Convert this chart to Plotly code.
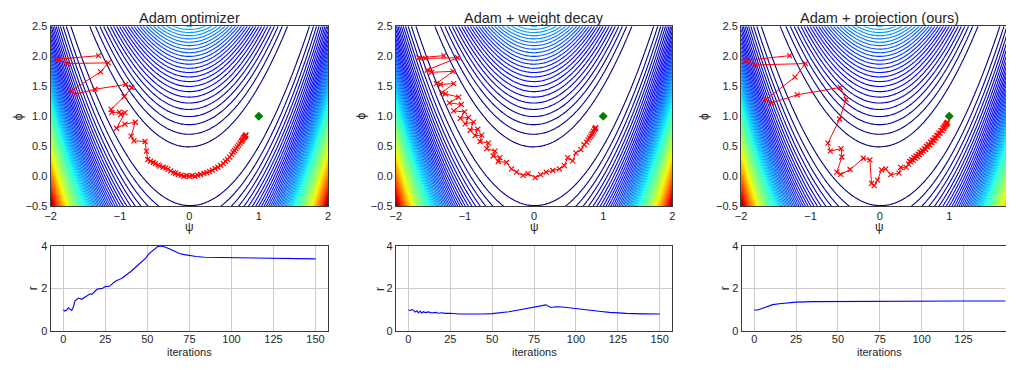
import numpy as np
import plotly.graph_objects as go

# ---------------- data ----------------
titles = ["Adam optimizer", "Adam + weight decay", "Adam + projection (ours)"]
optimum_psi = [1.0]
optimum_phi = [1.0]

# Rosenbrock loss surface (the contour background)
psi_grid = np.linspace(-2, 2, 201)
phi_grid = np.linspace(-0.5, 2.5, 151)
level_start, level_end, level_step = 25, 2025, 25

# trajectories
psi_adam = [-1.31, -1.905, -1.76, -1.17, -1.28, -1.71, -1.64, -1.36, -0.92, -0.83, -0.94, -1.13, -1.12, -1.01,
            -0.99, -0.93, -1.05, -0.93, -0.78, -0.84, -0.80, -0.64, -0.62, -0.60, -0.56, -0.52, -0.49, -0.45,
            -0.43, -0.38, -0.34, -0.31, -0.27, -0.23, -0.20, -0.16, -0.12, -0.08, -0.04, 0.0, 0.04, 0.08, 0.12,
            0.16, 0.21, 0.25, 0.29, 0.33, 0.37, 0.41, 0.45, 0.49, 0.52, 0.55, 0.58, 0.61, 0.63, 0.65, 0.67, 0.69,
            0.71, 0.73, 0.75, 0.76, 0.77, 0.78, 0.79, 0.80, 0.805, 0.81, 0.815]
phi_adam = [2.01, 1.95, 1.88, 1.89, 1.74, 1.42, 1.37, 1.45, 1.53, 1.48, 1.33, 1.115, 1.06, 1.07,
            1.03, 1.06, 0.80, 0.87, 0.90, 0.67, 0.59, 0.58, 0.42, 0.28, 0.25, 0.23, 0.21, 0.19,
            0.17, 0.15, 0.14, 0.12, 0.09, 0.06, 0.05, 0.03, 0.02, 0.00, 0.01, 0.00, 0.01, 0.00, 0.02,
            0.03, 0.05, 0.06, 0.08, 0.10, 0.13, 0.15, 0.18, 0.21, 0.25, 0.28, 0.32, 0.36, 0.40, 0.43, 0.46, 0.49,
            0.52, 0.55, 0.58, 0.60, 0.62, 0.64, 0.65, 0.66, 0.67, 0.68, 0.69]

psi_wd = [-1.306, -1.665, -1.57, -1.106, -1.546, -1.483, -1.173, -1.412, -1.354, -1.163, -1.33, -1.283, -1.091,
          -1.225, -1.053, -1.163, -1.005, -1.068, -0.948, -0.996, -0.876, -0.924, -0.814, -0.853, -0.757, -0.781,
          -0.661, -0.685, -0.566, -0.59, -0.494, -0.518, -0.399, -0.327, -0.255, -0.16, -0.088, 0.017, 0.094,
          0.175, 0.271, 0.366, 0.438, 0.486, 0.557, 0.605, 0.677, 0.724, 0.76, 0.782, 0.80, 0.82, 0.834, 0.85,
          0.86, 0.877, 0.885, 0.892]
phi_wd = [2.01, 1.975, 1.964, 1.975, 1.77, 1.733, 1.749, 1.545, 1.529, 1.545, 1.395, 1.373, 1.32,
          1.223, 1.196, 1.089, 1.073, 0.965, 0.981, 0.874, 0.901, 0.767, 0.783, 0.676, 0.686, 0.579,
          0.552, 0.461, 0.418, 0.337, 0.31, 0.246, 0.23, 0.123, 0.069, 0.015, 0.042, -0.022, 0.026,
          0.069, 0.096, 0.123, 0.176, 0.31, 0.257, 0.391, 0.445, 0.525, 0.57, 0.606, 0.64, 0.67, 0.697, 0.72,
          0.75, 0.783, 0.80, 0.81]

psi_proj = [-1.30, -1.939, -1.796, -1.072, -1.224, -1.643, -1.558, -1.191, -0.572, -0.486, -0.581, -0.748,
            -0.715, -0.558, -0.548, -0.62, -0.562, -0.429, -0.239, -0.143, -0.12, -0.081, -0.034, 0.023, 0.085,
            0.157, 0.276, 0.30, 0.38, 0.414,
            0.43, 0.45, 0.46, 0.48, 0.49, 0.51, 0.52, 0.54, 0.55, 0.57, 0.58, 0.60, 0.61, 0.63, 0.64, 0.66,
            0.67, 0.69, 0.70, 0.72, 0.73, 0.75, 0.76, 0.78, 0.79, 0.81, 0.82, 0.84, 0.85, 0.87, 0.88, 0.90,
            0.91, 0.92, 0.93, 0.94, 0.95, 0.96, 0.965, 0.97, 0.975]
phi_proj = [2.01, 1.93, 1.856, 1.878, 1.652, 1.277, 1.223, 1.357, 1.481, 1.277, 0.955, 0.552,
            0.418, 0.461, 0.321, 0.069, 0.031, 0.112, 0.30, 0.273, -0.119, -0.157, -0.065, 0.107, 0.123,
            0.026, 0.053, 0.149, 0.149, 0.203,
            0.25, 0.24, 0.28, 0.27, 0.31, 0.30, 0.34, 0.33, 0.37, 0.36, 0.40, 0.39, 0.43, 0.42, 0.46, 0.45,
            0.50, 0.49, 0.53, 0.52, 0.57, 0.56, 0.60, 0.60, 0.64, 0.64, 0.68, 0.68, 0.72, 0.72, 0.76, 0.76,
            0.80, 0.80, 0.83, 0.84, 0.86, 0.87, 0.88, 0.89, 0.90]

# r over iterations
iters_adam = [0, 1, 2, 3, 4, 5, 6, 7, 9, 10, 11, 13, 15, 16, 17, 19, 20, 22, 23, 25, 27, 28, 30, 32, 33, 35, 37, 40,
              43, 46, 49, 51, 54, 56, 58, 60, 63, 66, 69, 72, 75, 79, 84, 94, 104, 113, 123, 133, 150]
r_adam = [1.0, 0.95, 1.0, 1.1, 1.04, 0.98, 1.14, 1.43, 1.56, 1.53, 1.5, 1.61, 1.71, 1.76, 1.73, 1.86, 1.97, 2.0, 2.0,
          2.1, 2.1, 2.14, 2.29, 2.39, 2.41, 2.5, 2.61, 2.79, 3.0, 3.21, 3.43, 3.64, 3.83, 3.96, 3.99, 3.96, 3.86,
          3.74, 3.64, 3.59, 3.54, 3.5, 3.47, 3.46, 3.44, 3.43, 3.41, 3.40, 3.39]
iters_wd = [0, 1, 2, 3, 4, 5, 6, 7, 8, 9, 10, 12, 14, 16, 18, 20, 22, 25, 30, 35, 40, 45, 50, 55, 60, 65, 70, 75,
            80, 82, 85, 88, 92, 95, 100, 105, 110, 115, 120, 125, 130, 140, 150]
r_wd = [1.0, 0.98, 1.02, 0.99, 0.9, 0.96, 0.87, 0.94, 0.86, 0.92, 0.88, 0.91, 0.86, 0.89, 0.85, 0.87, 0.84, 0.85,
        0.81, 0.8, 0.8, 0.81, 0.83, 0.87, 0.92, 0.99, 1.07, 1.16, 1.24, 1.24, 1.12, 1.15, 1.14, 1.11, 1.05, 1.01,
        0.97, 0.93, 0.89, 0.86, 0.84, 0.82, 0.81]
iters_proj = [0, 2, 5, 8, 11, 15, 20, 25, 35, 50, 75, 100, 125, 150]
r_proj = [1.0, 1.0, 1.08, 1.16, 1.25, 1.29, 1.34, 1.37, 1.39, 1.40, 1.41, 1.41, 1.42, 1.42]

x_ticks_top = [-2, -1, 0, 1, 2]
y_ticks_top = [-0.5, 0.0, 0.5, 1.0, 1.5, 2.0, 2.5]
x_ticks_bot = [0, 25, 50, 75, 100, 125, 150]
y_ticks_bot = [0, 2, 4]

# ---------------- styling / geometry ----------------
# The page has an 8px body margin, so the figure is sized to fill the 1017x370 window exactly
# and every position below is given in window pixels and converted.
TW, TH = 1017, 370
WF, HF = TW - 16, TH - 16
FONT = "Liberation Sans, Arial, sans-serif"
TXT = "#262626"
FRAME = "#3a3a3a"


def fxp(p):
    return (p - 8) / WF


def fyp(p):
    return 1 - (p - 8) / HF


def jet(t):
    r = np.interp(t, [0, 0.35, 0.66, 0.89, 1], [0, 0, 1, 1, 0.5])
    g = np.interp(t, [0, 0.125, 0.375, 0.64, 0.91, 1], [0, 0, 1, 1, 0, 0])
    b = np.interp(t, [0, 0.11, 0.34, 0.65, 1], [0.5, 1, 1, 0, 0])
    return "rgb(%d,%d,%d)" % (round(r * 255), round(g * 255), round(b * 255))


jet_scale = [[float(t), jet(t)] for t in np.linspace(0, 1, 61)]

PSI, PHI = np.meshgrid(psi_grid, phi_grid)
Z = np.round((1 - PSI) ** 2 + 100 * (PHI - PSI ** 2) ** 2, 3)

edge = WF + 8  # right-most window pixel covered by the figure
col_top = [(45, 325), (393.3, 672.3), (741.7, edge)]
col_bot = [(45, 325), (393.3, 672.3), (742.3, edge)]
top_px = (20.7, 207)
bot_px = (248, 336.5)
top_xrange = [[-2, 2], [-2, 2], [-2, -2 + (edge - 741.7) / 70.0]]
bot_xrange = [[-7.5, 157.5], [-7.5, 157.5], [-7.5, (edge - 755.0) / 1.689]]

fig = go.Figure()
trajs = [(psi_adam, phi_adam), (psi_wd, phi_wd), (psi_proj, phi_proj)]
rs = [(iters_adam, r_adam), (iters_wd, r_wd), (iters_proj, r_proj)]

layout = dict(width=WF, height=HF, autosize=False, margin=dict(l=0, r=0, t=0, b=0, pad=0), paper_bgcolor="white",
              plot_bgcolor="white", showlegend=False, font=dict(family=FONT, size=11, color=TXT))
annotations = []

for i in range(3):
    n_top = i + 1
    n_bot = i + 4
    xt = "x" if n_top == 1 else "x%d" % n_top
    yt = "y" if n_top == 1 else "y%d" % n_top
    xb, yb = "x%d" % n_bot, "y%d" % n_bot

    fig.add_trace(go.Contour(x=psi_grid, y=phi_grid, z=Z, xaxis=xt, yaxis=yt,
                             autocontour=False,
                             contours=dict(start=level_start, end=level_end, size=level_step, coloring="lines"),
                             colorscale=jet_scale, showscale=False, line=dict(width=1.1, smoothing=1),
                             hoverinfo="skip"))
    fig.add_trace(go.Scatter(x=trajs[i][0], y=trajs[i][1], xaxis=xt, yaxis=yt, mode="lines+markers",
                             line=dict(color="red", width=1.0),
                             marker=dict(symbol="x-thin", size=5, color="red",
                                         line=dict(width=1.2, color="red"))))
    fig.add_trace(go.Scatter(x=optimum_psi, y=optimum_phi, xaxis=xt, yaxis=yt, mode="markers",
                             marker=dict(symbol="diamond", size=7, color="green")))
    fig.add_trace(go.Scatter(x=rs[i][0], y=rs[i][1], xaxis=xb, yaxis=yb, mode="lines",
                             line=dict(color="blue", width=1.1)))

    ax_common = dict(showline=True, linecolor=FRAME, linewidth=1.2, ticks="", ticklen=0, zeroline=False,
                     tickfont=dict(family=FONT, size=11, color=TXT))
    kx = "xaxis" if n_top == 1 else "xaxis%d" % n_top
    ky = "yaxis" if n_top == 1 else "yaxis%d" % n_top
    layout[kx] = dict(ax_common, domain=[fxp(col_top[i][0]), min(fxp(col_top[i][1]), 1.0)], anchor=yt,
                      range=top_xrange[i], tickvals=x_ticks_top, tickformat="d", showgrid=False, mirror=True,
                      ticklabelstandoff=-1)
    layout[ky] = dict(ax_common, domain=[fyp(top_px[1]), fyp(top_px[0])], anchor=xt, range=[-0.5, 2.5],
                      tickvals=y_ticks_top, tickformat=".1f", showgrid=False, mirror=(i < 2))
    layout["xaxis%d" % n_bot] = dict(ax_common, domain=[fxp(col_bot[i][0]), min(fxp(col_bot[i][1]), 1.0)],
                                     anchor=yb, range=bot_xrange[i], tickvals=x_ticks_bot, showgrid=True,
                                     gridcolor="#cccccc", gridwidth=1.1, mirror=True, ticklabelstandoff=-3)
    layout["yaxis%d" % n_bot] = dict(ax_common, domain=[fyp(bot_px[1]), fyp(bot_px[0])], anchor=xb, range=[0, 4],
                                     tickvals=y_ticks_bot, showgrid=True, gridcolor="#cccccc",
                                     gridwidth=1.1, mirror=(i < 2))

    cx = [185, 532.8, 881.7][i]
    annotations.append(dict(text=titles[i], x=fxp(cx), y=fyp(12.5), xref="paper", yref="paper",
                            showarrow=False, xanchor="center", yanchor="middle",
                            font=dict(family=FONT, size=14.5, color=TXT)))
    annotations.append(dict(text="ψ", x=fxp(cx), y=fyp(228.5), xref="paper", yref="paper",
                            showarrow=False, xanchor="center", yanchor="middle",
                            font=dict(family=FONT, size=12, color=TXT)))
    annotations.append(dict(text="iterations", x=fxp([185, 533.3, 881.7][i]), y=fyp(357.5), xref="paper",
                            yref="paper", showarrow=False, xanchor="center", yanchor="middle",
                            font=dict(family=FONT, size=11, color=TXT)))
    annotations.append(dict(text="ϕ", x=fxp([12, 358.3, 705][i]), y=fyp(113.9), xref="paper",
                            yref="paper", showarrow=False, xanchor="center", yanchor="middle", textangle=-90,
                            font=dict(family=FONT, size=12, color=TXT)))
    annotations.append(dict(text="r", x=fxp([26.7, 376.7, 725][i]), y=fyp((bot_px[0] + bot_px[1]) / 2),
                            xref="paper", yref="paper", showarrow=False, xanchor="center", yanchor="middle",
                            textangle=-90, font=dict(family=FONT, size=12, color=TXT)))

layout["annotations"] = annotations
fig.update_layout(**layout)

fig.write_html("out.html", config={"displayModeBar": False, "responsive": False})
